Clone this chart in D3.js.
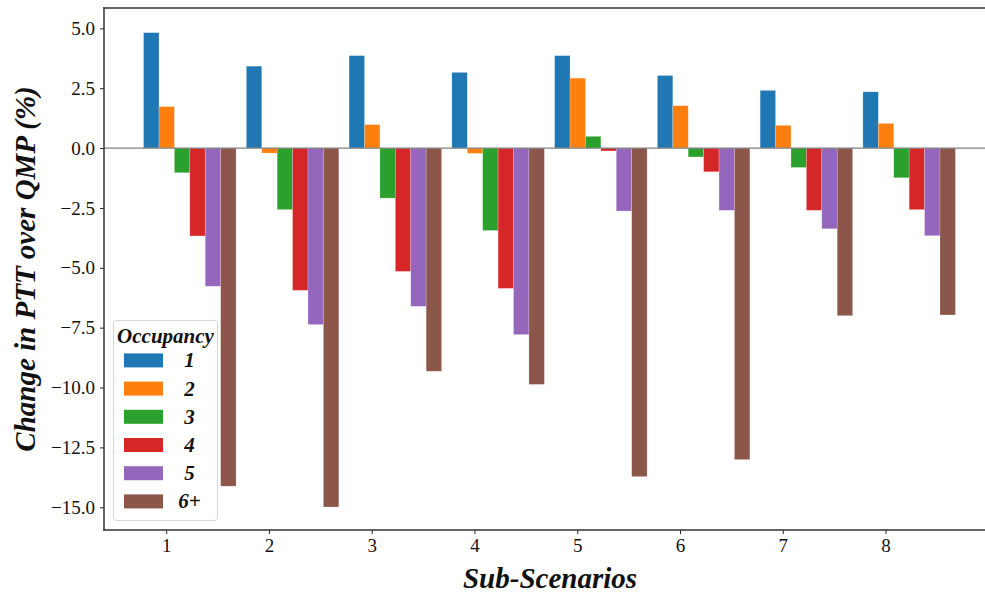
<!DOCTYPE html>
<html>
<head>
<meta charset="utf-8">
<script src="https://cdn.jsdelivr.net/npm/d3@7"></script>
<style>
    body { margin: 0; background: #fff; }
    svg { display: block; }
    svg text { font-family: 'Liberation Serif', 'Times New Roman', Times, serif; }
</style>
</head>
<body>
<div id="chart"></div>
<script>
var subScenarios = [1, 2, 3, 4, 5, 6, 7, 8];
var occupancy = ['1', '2', '3', '4', '5', '6+'];
var occ1 = [4.82, 3.42, 3.86, 3.16, 3.86, 3.03, 2.41, 2.35];
var occ2 = [1.73, -0.21, 0.98, -0.22, 2.92, 1.77, 0.95, 1.03];
var occ3 = [-1.03, -2.57, -2.09, -3.44, 0.49, -0.37, -0.81, -1.24];
var occ4 = [-3.67, -5.94, -5.15, -5.86, -0.12, -0.99, -2.60, -2.57];
var occ5 = [-5.77, -7.37, -6.61, -7.79, -2.63, -2.60, -3.37, -3.66];
var occ6 = [-14.12, -14.99, -9.32, -9.87, -13.72, -13.01, -7.00, -6.97];
var yTicks = [5.0, 2.5, 0.0, -2.5, -5.0, -7.5, -10.0, -12.5, -15.0];
var colors = ['#1f77b4', '#ff7f0e', '#2ca02c', '#d62728', '#9467bd', '#8c564b'];

var series = [occ1, occ2, occ3, occ4, occ5, occ6];

var WIDTH = 985;
var HEIGHT = 597;
var BAR_W = 0.15;
var BAR_OFFSET = -0.22;

var plot = {left: 104, right: 996, top: 8, bottom: 530};

var svg = d3.select('#chart').append('svg')
    .attr('width', WIDTH)
    .attr('height', HEIGHT);

var x = d3.scaleLinear()
    .domain([0.395, 9.075])
    .range([plot.left, plot.right]);

var y = d3.scaleLinear()
    .domain([-15.95, 5.85])
    .range([plot.bottom, plot.top]);

// bars, one group per occupancy class
var bars = svg.append('g').attr('class', 'bars');

series.forEach(function(vals, k) {
    bars.append('g')
	.attr('fill', colors[k])
	.selectAll('rect')
	.data(vals)
	.enter().append('rect')
	.attr('x', function(d, i) { return x(subScenarios[i] + BAR_OFFSET + k * BAR_W); })
	.attr('width', x(BAR_W) - x(0))
	.attr('y', function(d) { return y(Math.max(0, d)); })
	.attr('height', function(d) { return Math.abs(y(d) - y(0)); })
	.attr('stroke', '#ffffff')
	.attr('stroke-opacity', 0.35)
	.attr('stroke-width', 0.6);
});

// zero line
svg.append('line')
    .attr('x1', plot.left)
    .attr('x2', plot.right)
    .attr('y1', y(0))
    .attr('y2', y(0))
    .attr('stroke', '#808080')
    .attr('stroke-width', 1.2);

// axes
var xAxis = d3.axisBottom(x)
    .tickValues(subScenarios)
    .tickSize(4)
    .tickPadding(5)
    .tickFormat(d3.format('d'));

var yAxis = d3.axisLeft(y)
    .tickValues(yTicks)
    .tickSize(4)
    .tickPadding(5)
    .tickFormat(d3.format('.1f'));

var gx = svg.append('g')
    .attr('transform', 'translate(0,' + plot.bottom + ')')
    .call(xAxis);

var gy = svg.append('g')
    .attr('transform', 'translate(' + plot.left + ',0)')
    .call(yAxis);

[gx, gy].forEach(function(g) {
    g.attr('font-family', null);
    g.select('.domain').remove();
    g.selectAll('.tick line').attr('stroke', '#222').attr('stroke-width', 1);
    g.selectAll('.tick text')
	.attr('font-size', 19)
	.attr('fill', '#111');
});

// spines
var spines = [
    [plot.left, plot.top, plot.left, plot.bottom],
    [plot.left, plot.bottom, plot.right, plot.bottom],
    [plot.left, plot.top, plot.right, plot.top],
    [plot.right, plot.top, plot.right, plot.bottom]
];
svg.append('g').selectAll('line')
    .data(spines)
    .enter().append('line')
    .attr('x1', function(d) { return d[0]; })
    .attr('y1', function(d) { return d[1]; })
    .attr('x2', function(d) { return d[2]; })
    .attr('y2', function(d) { return d[3]; })
    .attr('stroke', '#333')
    .attr('stroke-width', 1.5)
    .attr('stroke-linecap', 'square');

// axis titles
svg.append('text')
    .attr('x', (plot.left + plot.right) / 2)
    .attr('y', 588)
    .attr('text-anchor', 'middle')
    .attr('font-size', 29)
    .attr('font-weight', 'bold')
    .attr('font-style', 'italic')
    .attr('fill', '#111')
    .text('Sub-Scenarios');

svg.append('text')
    .attr('transform', 'translate(35,' + ((plot.top + plot.bottom) / 2) + ') rotate(-90)')
    .attr('text-anchor', 'middle')
    .attr('font-size', 29)
    .attr('font-weight', 'bold')
    .attr('font-style', 'italic')
    .attr('fill', '#111')
    .text('Change in PTT over QMP (%)');

// legend
var legend = svg.append('g').attr('class', 'legend');

legend.append('rect')
    .attr('x', 113.5)
    .attr('y', 320.5)
    .attr('width', 104)
    .attr('height', 200)
    .attr('rx', 3)
    .attr('fill', '#fff')
    .attr('fill-opacity', 0.8)
    .attr('stroke', '#d6d6d6')
    .attr('stroke-width', 1);

legend.append('text')
    .attr('x', 165.5)
    .attr('y', 343)
    .attr('text-anchor', 'middle')
    .attr('font-size', 21)
    .attr('font-weight', 'bold')
    .attr('font-style', 'italic')
    .attr('fill', '#111')
    .text('Occupancy');

var entry = legend.selectAll('g.entry')
    .data(occupancy)
    .enter().append('g')
    .attr('class', 'entry')
    .attr('transform', function(d, i) { return 'translate(0,' + (360.4 + i * 28.2) + ')'; });

entry.append('rect')
    .attr('x', 124)
    .attr('y', -7)
    .attr('width', 39)
    .attr('height', 14)
    .attr('fill', function(d, i) { return colors[i]; });

entry.append('text')
    .attr('x', 189.5)
    .attr('y', 7)
    .attr('text-anchor', 'middle')
    .attr('font-size', 21)
    .attr('font-weight', 'bold')
    .attr('font-style', 'italic')
    .attr('fill', '#111')
    .text(function(d) { return d; });
</script>
</body>
</html>
